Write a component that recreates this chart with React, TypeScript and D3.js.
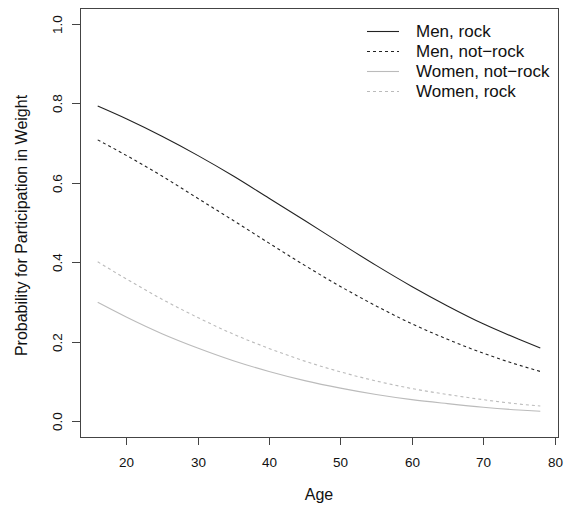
import { useEffect, useRef } from 'react';
import * as d3 from 'd3';

const ages = [16, 20, 25, 30, 35, 40, 45, 50, 55, 60, 65, 70, 75, 78];

const menRock = [0.793, 0.761, 0.717, 0.669, 0.617, 0.561, 0.505, 0.448, 0.392, 0.339, 0.29, 0.245, 0.206, 0.184];
const menNotRock = [0.708, 0.669, 0.617, 0.561, 0.505, 0.448, 0.392, 0.339, 0.29, 0.245, 0.206, 0.171, 0.141, 0.125];
const womenNotRock = [0.299, 0.262, 0.22, 0.184, 0.152, 0.125, 0.102, 0.083, 0.067, 0.054, 0.044, 0.035, 0.028, 0.025];
const womenRock = [0.401, 0.358, 0.307, 0.261, 0.219, 0.183, 0.151, 0.124, 0.101, 0.082, 0.067, 0.054, 0.043, 0.038];

const seriesNames = ['Men, rock', 'Men, not\u2212rock', 'Women, not\u2212rock', 'Women, rock'];
const xTicks = [20, 30, 40, 50, 60, 70, 80];
const yTicks = [0.0, 0.2, 0.4, 0.6, 0.8, 1.0];

export default function App() {
  const ref = useRef<SVGSVGElement>(null);

  useEffect(() => {
    if (!ref.current) return;
    const svg = d3.select(ref.current);
    svg.selectAll('*').remove();

    const W = 565, H = 505;
    const box = { left: 80, top: 8, right: 558, bottom: 437 };
    const font = '"Liberation Sans", Arial, Helvetica, sans-serif';
    const axisColor = '#444';

    // R-style 4% extension of the data range
    const x = d3.scaleLinear().domain([13.52, 80.48]).range([box.left, box.right]);
    const y = d3.scaleLinear().domain([-0.04, 1.04]).range([box.bottom, box.top]);

    svg.attr('width', W).attr('height', H);
    svg.append('rect').attr('width', W).attr('height', H).attr('fill', '#fff');

    const styles = [
      { data: menRock, color: '#222', dash: null },
      { data: menNotRock, color: '#222', dash: '3,3' },
      { data: womenNotRock, color: '#bbb', dash: null },
      { data: womenRock, color: '#bbb', dash: '3,3' },
    ];

    const line = d3.line<number>()
      .x((_, i) => x(ages[i]))
      .y(d => y(d))
      .curve(d3.curveMonotoneX);

    styles.forEach(s => {
      svg.append('path')
        .datum(s.data)
        .attr('d', line)
        .attr('fill', 'none')
        .attr('stroke', s.color)
        .attr('stroke-width', 1.1)
        .attr('stroke-dasharray', s.dash);
    });

    // plot box
    svg.append('rect')
      .attr('x', box.left + 0.5).attr('y', box.top + 0.5)
      .attr('width', box.right - box.left).attr('height', box.bottom - box.top)
      .attr('fill', 'none').attr('stroke', axisColor).attr('stroke-width', 1);

    // x ticks
    xTicks.forEach(t => {
      const px = Math.round(x(t)) + 0.5;
      svg.append('line')
        .attr('x1', px).attr('x2', px)
        .attr('y1', box.bottom).attr('y2', box.bottom + 8)
        .attr('stroke', axisColor);
      svg.append('text')
        .attr('x', px).attr('y', 467)
        .attr('text-anchor', 'middle')
        .attr('font-family', font).attr('font-size', 13.5).attr('fill', '#111')
        .text(t);
    });

    // y ticks (rotated labels like R)
    yTicks.forEach(t => {
      const py = Math.round(y(t)) + 0.5;
      svg.append('line')
        .attr('x1', box.left - 8).attr('x2', box.left)
        .attr('y1', py).attr('y2', py)
        .attr('stroke', axisColor);
      svg.append('text')
        .attr('transform', `translate(61.5,${py}) rotate(-90)`)
        .attr('text-anchor', 'middle')
        .attr('font-family', font).attr('font-size', 13.5).attr('fill', '#111')
        .text(t.toFixed(1));
    });

    // axis titles
    svg.append('text')
      .attr('x', (box.left + box.right) / 2).attr('y', 500)
      .attr('text-anchor', 'middle')
      .attr('font-family', font).attr('font-size', 16).attr('fill', '#111')
      .text('Age');

    svg.append('text')
      .attr('transform', `translate(27,${(box.top + box.bottom) / 2 + 3}) rotate(-90)`)
      .attr('text-anchor', 'middle')
      .attr('font-family', font).attr('font-size', 16).attr('fill', '#111')
      .text('Probability for Participation in Weight');

    // legend, no box
    const leg = svg.append('g').attr('transform', 'translate(367,31)');
    seriesNames.forEach((name, i) => {
      const row = leg.append('g').attr('transform', `translate(0,${i * 20})`);
      row.append('line')
        .attr('x1', 0).attr('x2', 32).attr('y1', 0.5).attr('y2', 0.5)
        .attr('stroke', styles[i].color).attr('stroke-width', 1.1)
        .attr('stroke-dasharray', styles[i].dash);
      row.append('text')
        .attr('x', 49).attr('y', 6)
        .attr('font-family', font).attr('font-size', 17).attr('fill', '#111')
        .text(name);
    });
  }, []);

  return (
    <div style={{ position: 'fixed', left: 0, top: 0 }}>
      <svg ref={ref} style={{ display: 'block' }} />
    </div>
  );
}
